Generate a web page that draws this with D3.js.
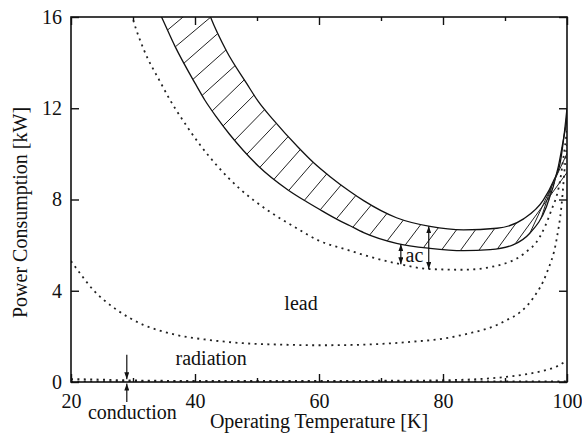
<!DOCTYPE html>
<html>
<head>
<meta charset="utf-8">
<script src="https://cdn.jsdelivr.net/npm/d3@7"></script>
<style>
  body { margin: 0; background: #fff; }
  svg { display: block; font-family: "Liberation Serif", "Times New Roman", serif; }
</style>
</head>
<body>
<div id="chart"></div>
<script>
/**************************************************
 * Data (temperature K, power kW)
 **************************************************/

// Hatched band: upper and lower boundaries
const bandUpper = [
  [41.8, 16.5], [42.5, 16.0], [45.1, 14.5], [48.3, 13.1], [50.2, 12.3], [52.6, 11.5],
  [56.6, 10.3], [59.1, 9.62], [61.8, 9.0], [65, 8.35], [67.2, 7.95], [72.5, 7.2],
  [77.9, 6.82], [83.3, 6.67], [88.7, 6.74], [93, 7.15], [96.2, 7.98], [97.8, 8.8],
  [98.9, 9.6], [99.5, 10.75], [100, 12.0]
];
const bandLower = [
  [33.9, 16.4], [34.6, 16.0], [36.8, 14.7], [40, 13.1], [41.6, 12.35], [43.5, 11.6],
  [45.6, 10.85], [47.8, 10.15], [50.2, 9.47], [55, 8.42], [58, 7.9], [60.7, 7.47],
  [63, 7.12], [65, 6.85], [67.2, 6.55], [72.5, 6.08], [77.9, 5.86], [83.3, 5.76],
  [87.6, 5.8], [91.3, 6.01], [94, 6.52], [96.7, 7.69], [98.6, 9.44], [99.7, 11.05], [100, 11.5]
];

// Dotted: total without ac loss
const totalNoAc = [
  [29.5, 16.4], [30, 15.9], [31.7, 14.6], [34.4, 13.15], [36, 12.35], [38.1, 11.45],
  [40.8, 10.4], [43.5, 9.5], [47.3, 8.45], [51.6, 7.55], [55.9, 6.82], [60.2, 6.17],
  [64.5, 5.8], [67.2, 5.57], [72.5, 5.2], [77.9, 4.95], [83.3, 4.92], [88.7, 5.1],
  [93, 5.62], [95.6, 6.35], [97.3, 7.4], [98.9, 8.86], [99.7, 10.4], [100, 11.0]
];

// Dotted: current lead
const lead = [
  [20, 5.3], [21.5, 4.75], [23.6, 4.03], [25.5, 3.55], [27.4, 3.16], [29.5, 2.8],
  [31.7, 2.5], [34, 2.28], [37, 2.06], [42.4, 1.84], [47.8, 1.7], [53.7, 1.64],
  [60, 1.61], [64.5, 1.62], [70, 1.67], [75.2, 1.77], [80, 1.9], [84, 2.12],
  [88.7, 2.5], [90.3, 2.72], [92.4, 3.05], [94.6, 3.7], [96.7, 4.76], [98.3, 6.22],
  [99.1, 7.69], [99.7, 9.59], [100, 10.4]
];

// Dotted: radiation and conduction
const radiation = [
  [20, 0.13], [24, 0.11], [28, 0.08], [32, 0.06], [40, 0.05], [60, 0.05], [75, 0.06],
  [82, 0.09], [86, 0.13], [91.3, 0.26], [94, 0.37], [96.7, 0.53], [98.5, 0.7], [100, 0.95]
];
const conduction = [[20, 0.03], [40, 0.03], [60, 0.03], [80, 0.03], [100, 0.03]];

// Ticks
const xTicks = [20, 40, 60, 80, 100];
const xMinorTicks = [30, 50, 70, 90];
const yTicks = [0, 4, 8, 12, 16];

/**************************************************
 * Layout
 **************************************************/

const W = 582, H = 435;
const margin = { top: 17, right: 15, bottom: 53, left: 71 };
const iw = W - margin.left - margin.right;
const ih = H - margin.top - margin.bottom;

const svg = d3.select("#chart").append("svg")
  .attr("width", W)
  .attr("height", H);

const x = d3.scaleLinear().domain([20, 100]).range([margin.left, margin.left + iw]);
const y = d3.scaleLinear().domain([0, 16]).range([margin.top + ih, margin.top]);

const defs = svg.append("defs");
defs.append("clipPath").attr("id", "plot-clip")
  .append("rect")
  .attr("x", margin.left).attr("y", margin.top)
  .attr("width", iw).attr("height", ih);

defs.append("marker")
  .attr("id", "head")
  .attr("markerUnits", "userSpaceOnUse")
  .attr("viewBox", "0 0 7 5")
  .attr("markerWidth", 7).attr("markerHeight", 5)
  .attr("refX", 7).attr("refY", 2.5)
  .attr("orient", "auto-start-reverse")
  .append("path")
  .attr("d", "M0,0 L7,2.5 L0,5 Z")
  .attr("fill", "#111");

const line = d3.line()
  .x(d => x(d[0]))
  .y(d => y(d[1]))
  .curve(d3.curveMonotoneX);

const plot = svg.append("g").attr("clip-path", "url(#plot-clip)");

/**************************************************
 * Curves
 **************************************************/

const dotted = [conduction, radiation, lead, totalNoAc];
const dottedPaths = plot.selectAll("path.dotted")
  .data(dotted)
  .enter()
  .append("path")
  .attr("class", "dotted")
  .attr("d", line)
  .attr("fill", "none")
  .attr("stroke", "#222")
  .attr("stroke-width", 1.8)
  .attr("stroke-dasharray", "2,4.4");

const upperPath = plot.append("path")
  .attr("d", line(bandUpper))
  .attr("fill", "none")
  .attr("stroke", "#111")
  .attr("stroke-width", 1.3);

const lowerPath = plot.append("path")
  .attr("d", line(bandLower))
  .attr("fill", "none")
  .attr("stroke", "#111")
  .attr("stroke-width", 1.3);

// sample a rendered path into a polyline (pixel coords)
function samplePath(node, step) {
  const len = node.getTotalLength();
  const pts = [];
  for (let s = 0; s <= len; s += step) {
    const p = node.getPointAtLength(s);
    pts.push([p.x, p.y]);
  }
  const last = node.getPointAtLength(len);
  pts.push([last.x, last.y]);
  return pts;
}

// y of a polyline at pixel x (null when outside)
function yAt(pts, px) {
  if (px < pts[0][0] || px > pts[pts.length - 1][0]) return null;
  for (let i = 1; i < pts.length; i++) {
    if (pts[i][0] >= px) {
      const a = pts[i - 1], b = pts[i];
      const k = b[0] === a[0] ? 0 : (px - a[0]) / (b[0] - a[0]);
      return a[1] + k * (b[1] - a[1]);
    }
  }
  return null;
}

const upperPts = samplePath(upperPath.node(), 1);
const lowerPts = samplePath(lowerPath.node(), 1);
const totalPts = samplePath(dottedPaths.nodes()[3], 1);

/**************************************************
 * Hatching between band boundaries
 **************************************************/

const hatch = plot.append("g")
  .attr("stroke", "#222")
  .attr("stroke-width", 1);

const lowerNode = lowerPath.node();
const lowerLen = lowerNode.getTotalLength();
const hatchGap = 18.5;
for (let s = 6; s < lowerLen; s += hatchGap) {
  const a = lowerNode.getPointAtLength(s);
  if (a.y < margin.top || a.x > margin.left + iw - 1) continue;
  const p0 = lowerNode.getPointAtLength(Math.max(0, s - 1.5));
  const p1 = lowerNode.getPointAtLength(Math.min(lowerLen, s + 1.5));
  const slope = (p1.y - p0.y) / ((p1.x - p0.x) || 1e-6);
  let ang;
  if (slope > 0) {
    ang = 54 - 14 * Math.min(1, slope / 2);
  } else {
    const th = Math.atan(-slope) * 180 / Math.PI;
    ang = Math.max(54, th + 0.4 * (90 - th));
  }
  const c = Math.cos(ang * Math.PI / 180), sn = Math.sin(ang * Math.PI / 180);
  let ex = a.x, ey = a.y;
  for (let t = 0.5; t < 90; t += 0.25) {
    const px = a.x + t * c, py = a.y - t * sn;
    ex = px; ey = py;
    if (py < margin.top - 2 || px > margin.left + iw + 2) break;
    const uy = yAt(upperPts, px);
    if (uy === null) continue;
    if (py <= uy) break;
  }
  hatch.append("line")
    .attr("x1", a.x).attr("y1", a.y)
    .attr("x2", ex).attr("y2", ey);
}

/**************************************************
 * Axes (ticks inward on all four sides)
 **************************************************/

function styleAxis(g) {
  g.select(".domain").remove();
  g.selectAll(".tick line").attr("stroke", "#111").attr("stroke-width", 1.4);
  g.selectAll(".tick text")
    .attr("fill", "#111")
    .attr("font-size", "20px")
    .attr("font-family", "'Liberation Serif', 'Times New Roman', serif");
}

svg.append("g")
  .attr("transform", `translate(0,${margin.top + ih})`)
  .call(d3.axisBottom(x).tickValues(xTicks).tickSize(-8).tickPadding(12).tickFormat(d3.format("d")))
  .call(styleAxis);
svg.append("g")
  .attr("transform", `translate(0,${margin.top + ih})`)
  .call(d3.axisBottom(x).tickValues(xMinorTicks).tickSize(-4).tickFormat(""))
  .call(styleAxis);
svg.append("g")
  .attr("transform", `translate(0,${margin.top})`)
  .call(d3.axisTop(x).tickValues(xTicks).tickSize(-8).tickFormat(""))
  .call(styleAxis);
svg.append("g")
  .attr("transform", `translate(0,${margin.top})`)
  .call(d3.axisTop(x).tickValues(xMinorTicks).tickSize(-4).tickFormat(""))
  .call(styleAxis);
svg.append("g")
  .attr("transform", `translate(${margin.left},0)`)
  .call(d3.axisLeft(y).tickValues(yTicks).tickSize(-8).tickPadding(9).tickFormat(d3.format("d")))
  .call(styleAxis);
svg.append("g")
  .attr("transform", `translate(${margin.left + iw},0)`)
  .call(d3.axisRight(y).tickValues(yTicks).tickSize(-8).tickFormat(""))
  .call(styleAxis);

svg.append("rect")
  .attr("x", margin.left).attr("y", margin.top)
  .attr("width", iw).attr("height", ih)
  .attr("fill", "none")
  .attr("stroke", "#111")
  .attr("stroke-width", 1.6);

svg.append("text")
  .attr("x", margin.left + iw / 2)
  .attr("y", 428)
  .attr("text-anchor", "middle")
  .attr("font-size", "20px")
  .attr("fill", "#111")
  .text("Operating Temperature [K]");

svg.append("text")
  .attr("transform", `translate(27,${margin.top + ih / 2 + 13}) rotate(-90)`)
  .attr("text-anchor", "middle")
  .attr("font-size", "20px")
  .attr("fill", "#111")
  .text("Power Consumption [kW]");

/**************************************************
 * Annotations
 **************************************************/

const notes = [
  { text: "lead", t: 57.1, p: 3.15 },
  { text: "radiation", t: 42.6, p: 0.75 },
  { text: "conduction", t: 29.9, p: -1.6 },
  { text: "ac", t: 75.4, p: 5.28 }
];
svg.selectAll("text.note")
  .data(notes)
  .enter()
  .append("text")
  .attr("class", "note")
  .attr("x", d => x(d.t))
  .attr("y", d => y(d.p))
  .attr("text-anchor", "middle")
  .attr("font-size", "20px")
  .attr("fill", "#111")
  .text(d => d.text);

// single arrows at 29 K (radiation above axis, conduction below)
const pointers = [
  { t: 29, from: 1.2, to: 0.12 },
  { t: 29, from: -0.88, to: -0.07 }
];
svg.selectAll("line.pointer")
  .data(pointers)
  .enter()
  .append("line")
  .attr("class", "pointer")
  .attr("x1", d => x(d.t)).attr("x2", d => x(d.t))
  .attr("y1", d => y(d.from)).attr("y2", d => y(d.to))
  .attr("stroke", "#111")
  .attr("stroke-width", 1.2)
  .attr("marker-end", "url(#head)");

// ac double arrows, from dotted total up to band boundary
const acArrows = [
  { t: 73.2, top: lowerPts },
  { t: 77.7, top: upperPts }
];
svg.selectAll("line.ac")
  .data(acArrows)
  .enter()
  .append("line")
  .attr("class", "ac")
  .attr("x1", d => x(d.t)).attr("x2", d => x(d.t))
  .attr("y1", d => yAt(totalPts, x(d.t)))
  .attr("y2", d => yAt(d.top, x(d.t)))
  .attr("stroke", "#111")
  .attr("stroke-width", 1.2)
  .attr("marker-start", "url(#head)")
  .attr("marker-end", "url(#head)");
</script>
</body>
</html>
